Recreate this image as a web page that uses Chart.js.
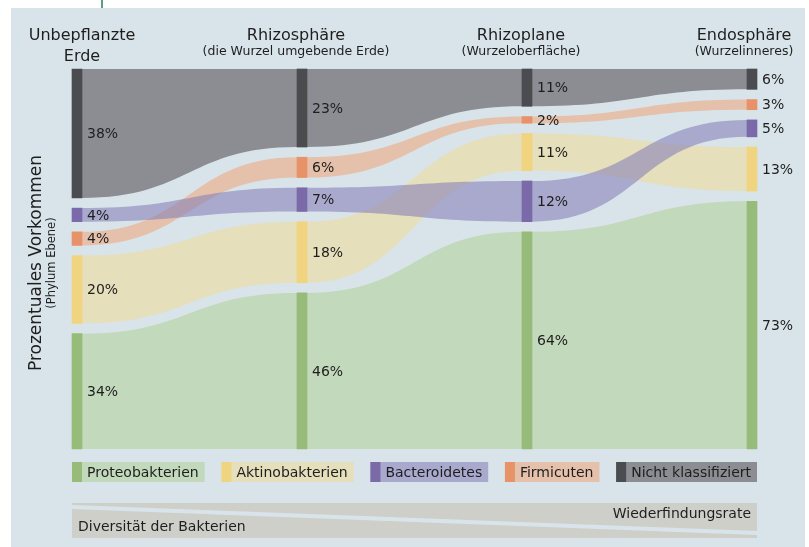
<!DOCTYPE html>
<html>
<head>
<meta charset="utf-8">
<script src="https://cdn.jsdelivr.net/npm/chart.js@4"></script>
<style>
  body { margin: 0; background: #fff; }
  canvas { display: block; }
</style>
</head>
<body>
<canvas id="sankey" width="809" height="547"></canvas>
<script>
// Daten
const spalten = ['Unbepflanzte\nErde', 'Rhizosphäre', 'Rhizoplane', 'Endosphäre'];
const untertitel = ['', '(die Wurzel umgebende Erde)', '(Wurzeloberfläche)', '(Wurzelinneres)'];
const kategorien = ['Proteobakterien', 'Aktinobakterien', 'Bacteroidetes', 'Firmicuten', 'Nicht klassifiziert'];
const proteobakterien = [34, 46, 64, 73];
const aktinobakterien = [20, 18, 11, 13];
const bacteroidetes = [4, 7, 12, 5];
const firmicuten = [4, 6, 2, 3];
const nichtKlassifiziert = [38, 23, 11, 6];
// Reihenfolge von oben nach unten je Spalte (Index in kategorien)
const reihenfolge = [
    [4, 2, 3, 1, 0],
    [4, 3, 2, 1, 0],
    [4, 3, 1, 2, 0],
    [4, 3, 2, 1, 0]
];

const werte = [proteobakterien, aktinobakterien, bacteroidetes, firmicuten, nichtKlassifiziert];
const luecke = 3;

const knotenFarben = ['#97bb78', '#f1d47f', '#7a6aa9', '#e8926a', '#4b4c50'];
const flussFarben = ['rgba(179,210,156,0.6)', 'rgba(237,220,156,0.6)', 'rgba(135,130,184,0.6)',
                     'rgba(237,170,129,0.6)', 'rgba(87,84,86,0.6)'];
const zeichenFolge = [0, 1, 3, 2, 4];
const titelX = [82, 296, 521, 744];
const hintergrund = '#d9e4ea';

// floating bars [oben, unten] je Spalte
const bereiche = kategorien.map(() => []);
reihenfolge.forEach((ordnung, s) => {
    let y = 0;
    ordnung.forEach(k => {
        bereiche[k][s] = [y, y + werte[k][s]];
        y += werte[k][s] + luecke;
    });
});

const datasets = kategorien.map((name, k) => ({
    label: name,
    data: bereiche[k],
    backgroundColor: knotenFarben[k],
    borderWidth: 0,
    borderSkipped: false,
    barThickness: 10,
    grouped: false,
    clip: false
}));

const hintergrundPlugin = {
    id: 'hintergrund',
    beforeDraw(chart) {
        const ctx = chart.ctx;
        ctx.save();
        ctx.fillStyle = '#fff';
        ctx.fillRect(0, 0, chart.width, chart.height);
        ctx.fillStyle = hintergrund;
        ctx.fillRect(11, 8, 794, 539);
        ctx.strokeStyle = '#2a7a52';
        ctx.lineWidth = 1.5;
        ctx.beginPath();
        ctx.moveTo(102, 0);
        ctx.lineTo(102, 8);
        ctx.stroke();
        ctx.restore();
    }
};

const flussPlugin = {
    id: 'fluesse',
    beforeDatasetsDraw(chart) {
        const ctx = chart.ctx;
        const xs = chart.scales.x, ys = chart.scales.y;
        ctx.save();
        zeichenFolge.forEach(k => {
            const d = chart.data.datasets[k].data;
            for (let s = 0; s < d.length - 1; s++) {
                const x0 = xs.getPixelForValue(s) + 5;
                const x1 = xs.getPixelForValue(s + 1) - 5;
                const xm = (x0 + x1) / 2;
                const t0 = ys.getPixelForValue(d[s][0]), b0 = ys.getPixelForValue(d[s][1]);
                const t1 = ys.getPixelForValue(d[s + 1][0]), b1 = ys.getPixelForValue(d[s + 1][1]);
                ctx.beginPath();
                ctx.moveTo(x0, t0);
                ctx.bezierCurveTo(xm, t0, xm, t1, x1, t1);
                ctx.lineTo(x1, b1);
                ctx.bezierCurveTo(xm, b1, xm, b0, x0, b0);
                ctx.closePath();
                ctx.fillStyle = flussFarben[k];
                ctx.fill();
            }
        });
        ctx.restore();
    }
};

const textPlugin = {
    id: 'texte',
    afterDatasetsDraw(chart) {
        const ctx = chart.ctx;
        const xs = chart.scales.x, ys = chart.scales.y;
        ctx.save();
        ctx.fillStyle = '#1e1e1e';

        // Prozentwerte
        ctx.font = '14px "DejaVu Sans"';
        ctx.textAlign = 'left';
        ctx.textBaseline = 'middle';
        chart.data.datasets.forEach((ds, k) => {
            ds.data.forEach((r, s) => {
                const x = xs.getPixelForValue(s) + 10;
                const y = (ys.getPixelForValue(r[0]) + ys.getPixelForValue(r[1])) / 2;
                ctx.fillText(werte[k][s] + '%', x, y + 1);
            });
        });

        // Spaltentitel
        ctx.textAlign = 'center';
        ctx.textBaseline = 'alphabetic';
        spalten.forEach((t, s) => {
            const zeilen = t.split('\n');
            ctx.font = '16px "DejaVu Sans"';
            zeilen.forEach((z, i) => ctx.fillText(z, titelX[s], 40 + i * 21));
            if (untertitel[s]) {
                ctx.font = '12.5px "DejaVu Sans"';
                ctx.fillText(untertitel[s], titelX[s], 55);
            }
        });

        // Achsentitel
        ctx.save();
        ctx.translate(41, 263);
        ctx.rotate(-Math.PI / 2);
        ctx.font = '17px "DejaVu Sans"';
        ctx.fillText('Prozentuales Vorkommen', 0, 0);
        ctx.font = '11.5px "DejaVu Sans"';
        ctx.fillText('(Phylum Ebene)', 0, 14);
        ctx.restore();

        // Legende
        const links = 72, rechts = 757, oben = 462, hoehe = 20;
        ctx.font = '14px "DejaVu Sans"';
        const breiten = kategorien.map(n => 10 + 5 + ctx.measureText(n).width + 6);
        const abstand = (rechts - links - breiten.reduce((a, b) => a + b, 0)) / (kategorien.length - 1);
        let x = links;
        ctx.textAlign = 'left';
        ctx.textBaseline = 'middle';
        kategorien.forEach((n, k) => {
            ctx.fillStyle = flussFarben[k];
            ctx.fillRect(x, oben, breiten[k], hoehe);
            ctx.fillStyle = knotenFarben[k];
            ctx.fillRect(x, oben, 10, hoehe);
            ctx.fillStyle = '#1e1e1e';
            ctx.fillText(n, x + 15, oben + hoehe / 2 + 1);
            x += breiten[k] + abstand;
        });

        // Diversität / Wiederfindungsrate
        ctx.fillStyle = '#cfcfca';
        ctx.beginPath();
        ctx.moveTo(72, 503); ctx.lineTo(757, 503); ctx.lineTo(757, 531); ctx.lineTo(72, 505);
        ctx.closePath(); ctx.fill();
        ctx.beginPath();
        ctx.moveTo(72, 509); ctx.lineTo(757, 535); ctx.lineTo(757, 538); ctx.lineTo(72, 538);
        ctx.closePath(); ctx.fill();
        ctx.fillStyle = '#1e1e1e';
        ctx.textBaseline = 'alphabetic';
        ctx.textAlign = 'left';
        ctx.fillText('Diversität der Bakterien', 78, 531);
        ctx.textAlign = 'right';
        ctx.fillText('Wiederfindungsrate', 751, 518);
        ctx.restore();
    }
};

new Chart(document.getElementById('sankey'), {
    type: 'bar',
    data: {
        labels: spalten.map(s => s.replace('\n', ' ')),
        datasets: datasets
    },
    options: {
        responsive: false,
        animation: false,
        layout: { padding: { left: 77, right: 57, top: 69, bottom: 98 } },
        scales: {
            x: { display: false, offset: false, grid: { display: false } },
            y: { display: false, reverse: true, min: 0, max: 100 + 4 * luecke }
        },
        plugins: {
            legend: { display: false },
            tooltip: { enabled: false }
        }
    },
    plugins: [hintergrundPlugin, flussPlugin, textPlugin]
});
</script>
</body>
</html>
